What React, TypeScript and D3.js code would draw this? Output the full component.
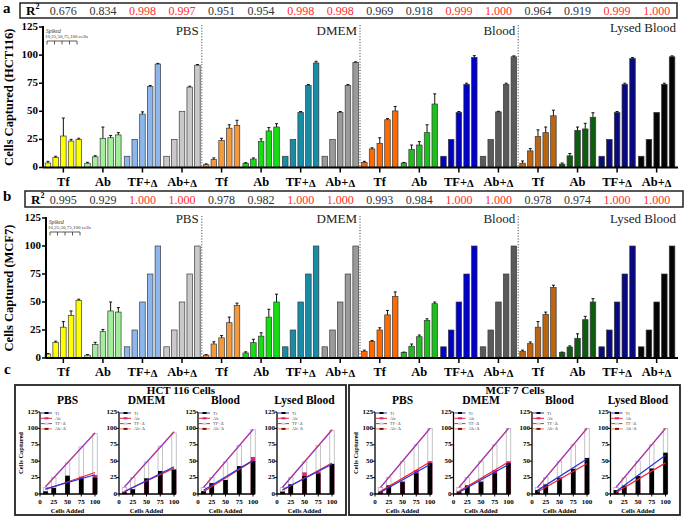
import { useMemo } from "react";
import * as d3 from "d3";

const MEDIA = ["PBS", "DMEM", "Blood", "Lysed Blood"];
const ASSAYS = ["Tf", "Ab", "TF+Δ", "Ab+Δ"];
const SPIKED = [10, 25, 50, 75, 100];
const Y_TICKS = [0, 25, 50, 75, 100, 125];

// HCT116 cells captured, rows = Tf, Ab, TF+Δ, Ab+Δ
const HCT_PBS = [[4, 9, 28, 23.5, 25], [3.8, 9.5, 26, 26.5, 29], [10, 25, 47.5, 72, 92], [10, 25, 50, 71.5, 91]];
const HCT_DMEM = [[2.5, 7, 24, 35, 37.5], [3.8, 7.5, 23, 32.5, 36], [10, 25, 49, 73, 93], [10, 25, 49, 73, 93.5]];
const HCT_BLOOD = [[4.5, 16.5, 21.5, 42.5, 50.3], [4, 16, 20, 31, 56.5], [10, 25, 49, 74, 98], [10, 25, 49.5, 74, 98.5]];
const HCT_LYSED = [[3.8, 14.8, 27.5, 31, 46], [3, 10.4, 33, 34.3, 44.7], [10, 25, 49, 74, 97], [10, 25, 49, 74, 98.5]];
const HCT_PBS_ERR = [[1.5, 1, 16, 1.5, 1], [0.8, 1, 10, 2, 2], [0, 0, 2, 1, 0.6], [0, 0, 0, 0.8, 0.6]];
const HCT_DMEM_ERR = [[0.7, 1.5, 2, 3, 4.5], [0.5, 1, 2.5, 3, 3], [0, 0, 0.8, 0.8, 1.5], [0, 0, 0.8, 0.8, 0.5]];
const HCT_BLOOD_ERR = [[1, 1, 5, 1, 4], [0.5, 4, 3, 7, 9], [0, 0, 0.8, 1, 1.5], [0, 0, 0.5, 1, 0.8]];
const HCT_LYSED_ERR = [[2, 2, 6, 5, 5], [1, 2, 3, 5, 4], [0, 0, 0.8, 1, 0.8], [0, 0, 0, 1, 0.8]];
const HCT_R2 = [0.676, 0.834, 0.998, 0.997, 0.951, 0.954, 0.998, 0.998, 0.969, 0.918, 0.999, 1.0, 0.964, 0.919, 0.999, 1.0];

// MCF7 cells captured
const MCF_PBS = [[3.5, 14, 27.5, 38, 51.5], [2.5, 12, 23.5, 42, 41], [10, 25, 50, 75, 100], [10, 25, 50, 75, 100]];
const MCF_DMEM = [[2.5, 12.5, 18, 31.5, 47], [4.5, 13.7, 19.5, 36.5, 50], [10, 25, 50, 75, 100], [10, 25, 50, 75, 100]];
const MCF_BLOOD = [[6, 14.6, 25, 38.5, 55], [4.8, 10.5, 19, 33.5, 48.5], [10, 25, 50, 75, 100], [10, 25, 50, 75, 100]];
const MCF_LYSED = [[6, 12.8, 27.5, 39, 63], [4.8, 9.8, 17.6, 34.2, 50], [10, 25, 50, 75, 100], [10, 25, 50, 75, 100]];
const MCF_PBS_ERR = [[0.5, 1, 5, 4, 1], [0.5, 2, 2, 8, 4], [0, 0, 0, 0, 0], [0, 0, 0, 0, 0]];
const MCF_DMEM_ERR = [[0.5, 2, 2, 5, 2], [1, 3, 3, 7, 7], [0, 0, 0, 0, 0], [0, 0, 0, 0, 0]];
const MCF_BLOOD_ERR = [[1, 1, 2, 4, 4], [0.5, 2, 1.5, 1.5, 1.5], [0, 0, 0, 0, 0], [0, 0, 0, 0, 0]];
const MCF_LYSED_ERR = [[1, 1.5, 5, 2, 2], [0.5, 1, 4, 3, 3], [0, 0, 0, 0, 0], [0, 0, 0, 0, 0]];
const MCF_R2 = [0.995, 0.929, 1.0, 1.0, 0.978, 0.982, 1.0, 1.0, 0.993, 0.984, 1.0, 1.0, 0.978, 0.974, 1.0, 1.0];

// panel c: the MCF7 "PBS" plot repeats the DMEM numbers in the source figure
const HCT_C = [HCT_PBS, HCT_DMEM, HCT_BLOOD, HCT_LYSED];
const MCF_C = [MCF_DMEM, MCF_DMEM, MCF_BLOOD, MCF_LYSED];

const COLORS = [
  ["#ffff00", "#a2ee9a", "#8cb6ec", "#c9c9c9"],
  ["#f49a3e", "#12de12", "#178ca6", "#9a9a9a"],
  ["#ff6a00", "#20bd20", "#0000c8", "#5a5a5a"],
  ["#bc6510", "#0e5c10", "#0a0a80", "#050505"],
];
const C_LINE = ["#2233dd", "#ee2233", "#9933cc", "#ff7733"];
const C_MARK = ["#000", "#e8207a", "#d0d0d0", "#6a1a10"];

const SERIF = "'Liberation Serif', 'Times New Roman', 'DejaVu Serif', serif";

const groupKeys = d3.range(16).map(String);
const gx = d3.scaleBand<string>().domain(groupKeys).range([42, 678]).padding(0.08);
const bx = d3.scaleBand<number>().domain(SPIKED).range([0, gx.bandwidth()]).paddingInner(0.28);

function DeltaLabel({ label }: { label: string }) {
  if (!label.endsWith("Δ")) return <>{label}</>;
  return (
    <>
      {label.slice(0, -1)}
      <tspan fontSize="0.85em" dy={1}>Δ</tspan>
    </>
  );
}

interface BarProps {
  data: number[][][];
  errs: number[][][];
  r2: number[];
  y0: number;
  y125: number;
  axisX: number;
  yLabel: string;
  box: { x: number; y: number; w: number; h: number };
  letter: string;
  letterY: number;
  mediaDy: number[];
}

function BarPanel({ data, errs, r2, y0, y125, axisX, yLabel, box, letter, letterY, mediaDy }: BarProps) {
  const y = useMemo(() => d3.scaleLinear().domain([0, 125]).range([y0, y125]), [y0, y125]);
  const seps = [1, 2, 3].map((m) => {
    const a = gx(String(m * 4 - 1))! + gx.bandwidth();
    const b = gx(String(m * 4))!;
    return (a + b) / 2;
  });
  const labelRight = [...seps.map((s) => s - 3), 676];

  return (
    <g fontFamily={SERIF}>
      <text x={3} y={letterY} fontSize={15} fontWeight={700}>{letter}</text>

      {/* R² strip */}
      <rect x={box.x} y={box.y} width={box.w} height={box.h} fill="none" stroke="#222" strokeWidth={1.5} />
      <text x={box.x + 6} y={box.y + box.h - 3} fontSize={13} fontWeight={700}>
        R<tspan fontSize={8} dy={-6}>2</tspan>
      </text>
      {r2.map((v, i) => (
        <text
          key={i}
          x={gx(String(i))! + gx.bandwidth() / 2}
          y={box.y + box.h - 3}
          fontSize={12}
          textAnchor="middle"
          fill={i % 4 >= 2 ? "#ff2d2d" : "#333"}
        >
          {v.toFixed(3)}
        </text>
      ))}

      {/* medium separators + names */}
      {seps.map((s) => (
        <line key={s} x1={s} x2={s} y1={y125 - 2} y2={y0} stroke="#555" strokeWidth={1} strokeDasharray="1.2,1.6" />
      ))}
      {MEDIA.map((m, i) => (
        <text key={m} x={labelRight[i]} y={y125 + mediaDy[i]} fontSize={13} textAnchor="end" fill="#222">
          {m}
        </text>
      ))}

      {/* spiked bracket */}
      <text x={axisX + 3} y={y125 + 6} fontSize={5.5} fontStyle="italic" fill="#333">Spiked</text>
      <text x={axisX + 2} y={y125 + 11} fontSize={5} fill="#333">10,25,50,75,100 cells</text>
      <line x1={axisX + 4} x2={axisX + 34} y1={y125 + 14} y2={y125 + 14} stroke="#333" strokeWidth={0.8} />
      {d3.range(5).map((k) => (
        <line key={k} x1={axisX + 4 + k * 7.5} x2={axisX + 4 + k * 7.5} y1={y125 + 14} y2={y125 + 17.5} stroke="#333" strokeWidth={0.8} />
      ))}

      {/* bars */}
      {data.map((medium, m) =>
        medium.map((series, a) => {
          const g = gx(String(m * 4 + a))!;
          return series.map((v, k) => {
            const x = g + bx(SPIKED[k])!;
            const e = errs[m][a][k];
            const cx = x + bx.bandwidth() / 2;
            return (
              <g key={`${m}-${a}-${k}`}>
                <rect x={x} y={y(v)} width={bx.bandwidth()} height={y0 - y(v)} fill={COLORS[m][a]} stroke="#3a3a3a" strokeWidth={0.7} />
                {e > 0.3 && (
                  <>
                    <line x1={cx} x2={cx} y1={y(v)} y2={y(v + e)} stroke="#111" strokeWidth={1} />
                    <line x1={cx - 1.5} x2={cx + 1.5} y1={y(v + e)} y2={y(v + e)} stroke="#111" strokeWidth={1} />
                  </>
                )}
                {e <= 0.3 && e > 0 && <line x1={cx - 1.5} x2={cx + 1.5} y1={y(v)} y2={y(v)} stroke="#111" strokeWidth={1.2} />}
              </g>
            );
          });
        }),
      )}

      {/* y axis */}
      <line x1={axisX} x2={axisX} y1={y125 - 1} y2={y0} stroke="#000" strokeWidth={2} />
      {Y_TICKS.map((t) => (
        <g key={t}>
          <line x1={axisX - 4} x2={axisX} y1={y(t)} y2={y(t)} stroke="#000" strokeWidth={1.5} />
          <text x={axisX - 5} y={y(t)} fontSize={11} fontWeight={700} textAnchor="end" dominantBaseline="middle">{t}</text>
        </g>
      ))}
      <text
        transform={`translate(13,${(y0 + y125) / 2}) rotate(-90)`}
        fontSize={12.5}
        fontWeight={700}
        textAnchor="middle"
      >
        {yLabel}
      </text>

      {/* x axis */}
      <line x1={axisX} x2={678} y1={y0} y2={y0} stroke="#000" strokeWidth={2} />
      {groupKeys.map((k, i) => {
        const cx = gx(k)! + gx.bandwidth() / 2;
        return (
          <g key={k}>
            <line x1={cx} x2={cx} y1={y0} y2={y0 + 5} stroke="#000" strokeWidth={1.5} />
            <text x={cx} y={y0 + 18} fontSize={12.5} fontWeight={700} textAnchor="middle">
              <DeltaLabel label={ASSAYS[i % 4]} />
            </text>
          </g>
        );
      })}
    </g>
  );
}

function fit(ys: number[]) {
  const mx = d3.mean(SPIKED)!;
  const my = d3.mean(ys)!;
  const sxy = d3.sum(SPIKED, (x, i) => (x - mx) * (ys[i] - my));
  const sxx = d3.sum(SPIKED, (x) => (x - mx) ** 2);
  const b = sxy / sxx;
  return (x: number) => my + b * (x - mx);
}

function MiniChart({ x0, title, series, showYLabel }: { x0: number; title: string; series: number[][]; showYLabel: boolean }) {
  const x = d3.scaleLinear().domain([0, 100]).range([x0, x0 + 55]);
  const y = d3.scaleLinear().domain([0, 125]).range([494, 412]);
  const bw = 4.5;
  const drawOrder = [3, 2, 1, 0];

  return (
    <g>
      <text x={x(50)} y={404} fontSize={11.5} fontWeight={700} textAnchor="middle">{title}</text>

      {/* overlaid bars: spiked controls, Ab, Tf */}
      {SPIKED.map((s, k) => (
        <g key={s}>
          <rect x={x(s) - bw / 2} y={y(series[2][k])} width={bw} height={y(0) - y(series[2][k])} fill="#fff" stroke="#b4b4b4" strokeWidth={0.8} />
          <rect x={x(s) - bw / 2} y={y(series[1][k])} width={bw} height={y(0) - y(series[1][k])} fill={C_MARK[1]} />
          <rect x={x(s) - bw / 2} y={y(series[0][k])} width={bw} height={y(0) - y(series[0][k])} fill="#000" />
        </g>
      ))}

      {/* linear fits */}
      {drawOrder.map((a) => {
        const f = fit(series[a]);
        return (
          <line key={a} x1={x(10)} x2={x(100)} y1={y(f(10))} y2={y(f(100))} stroke={C_LINE[a]} strokeWidth={1.2} />
        );
      })}

      {/* legend */}
      {ASSAYS.map((a, i) => {
        const ly = 413 + i * 5.3;
        return (
          <g key={a}>
            <line x1={x(0) + 1} x2={x(0) + 12} y1={ly} y2={ly} stroke={C_LINE[i]} strokeWidth={1} />
            <rect x={x(0) + 4.5} y={ly - 1} width={4} height={2} fill={C_MARK[i]} />
            <text x={x(0) + 15} y={ly + 1.5} fontSize={4.5} fill="#555">{a}</text>
          </g>
        );
      })}

      {/* axes */}
      <line x1={x(0)} x2={x(0)} y1={y(125)} y2={y(0)} stroke="#000" strokeWidth={1.3} />
      {Y_TICKS.map((t) => (
        <g key={t}>
          <line x1={x(0) - 2.5} x2={x(0)} y1={y(t)} y2={y(t)} stroke="#000" strokeWidth={1} />
          <text x={x(0) - 2} y={y(t)} fontSize={7} fontWeight={700} textAnchor="end" dominantBaseline="middle">{t}</text>
        </g>
      ))}
      <line x1={x(0)} x2={x(100) + 2} y1={y(0)} y2={y(0)} stroke="#000" strokeWidth={1.3} />
      {[0, 25, 50, 75, 100].map((t) => (
        <g key={t}>
          <line x1={x(t)} x2={x(t)} y1={y(0)} y2={y(0) + 2.5} stroke="#000" strokeWidth={1} />
          <text x={x(t)} y={y(0) + 10} fontSize={7} fontWeight={700} textAnchor="middle">{t}</text>
        </g>
      ))}
      <text x={x(50)} y={513} fontSize={6.5} fontWeight={700} textAnchor="middle">Cells Added</text>
      {showYLabel && (
        <text transform={`translate(${x(0) - 17},453) rotate(-90)`} fontSize={6.5} fontWeight={700} textAnchor="middle">
          Cells  Captured
        </text>
      )}
    </g>
  );
}

function CBox({ bx0, start, step, title, data }: { bx0: number; start: number; step: number; title: string; data: number[][][] }) {
  return (
    <g fontFamily={SERIF}>
      <rect x={bx0} y={385} width={331} height={130} fill="#fff" stroke="#222" strokeWidth={1.8} />
      <text x={bx0 + 166} y={394} fontSize={11} fontWeight={700} textAnchor="middle">{title}</text>
      {MEDIA.map((m, i) => (
        <MiniChart key={m} x0={start + i * step} title={m} series={data[i]} showYLabel={i === 0} />
      ))}
    </g>
  );
}

export default function App() {
  return (
    <svg width={685} height={516} style={{ position: "absolute", left: 0, top: 0, background: "#fff" }}>
      <rect width={685} height={516} fill="#fff" />
      <BarPanel
        data={[HCT_PBS, HCT_DMEM, HCT_BLOOD, HCT_LYSED]}
        errs={[HCT_PBS_ERR, HCT_DMEM_ERR, HCT_BLOOD_ERR, HCT_LYSED_ERR]}
        r2={HCT_R2}
        y0={167.5}
        y125={27}
        axisX={43}
        yLabel="Cells  Captured (HCT116)"
        box={{ x: 20, y: 3, w: 657, h: 15 }}
        letter="a"
        letterY={13}
        mediaDy={[8, 8, 8, 4.5]}
      />
      <BarPanel
        data={[MCF_PBS, MCF_DMEM, MCF_BLOOD, MCF_LYSED]}
        errs={[MCF_PBS_ERR, MCF_DMEM_ERR, MCF_BLOOD_ERR, MCF_LYSED_ERR]}
        r2={MCF_R2}
        y0={358}
        y125={218}
        axisX={46}
        yLabel="Cells  Captured (MCF7)"
        box={{ x: 25, y: 191, w: 658, h: 16 }}
        letter="b"
        letterY={201}
        mediaDy={[5, 5, 5, 5]}
      />
      <text x={4} y={374} fontSize={15} fontWeight={700} fontFamily={SERIF}>c</text>
      <CBox bx0={15} start={40} step={79} title="HCT 116 Cells" data={HCT_C} />
      <CBox bx0={349} start={375} step={78.5} title="MCF 7 Cells" data={MCF_C} />
    </svg>
  );
}
